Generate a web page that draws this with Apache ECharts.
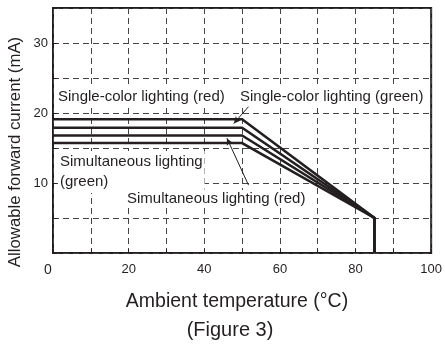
<!DOCTYPE html>
<html>
<head>
<meta charset="utf-8">
<script src="https://cdn.jsdelivr.net/npm/echarts@6/dist/echarts.min.js"></script>
<style>
html,body{margin:0;padding:0;background:#fff;}
#chart{width:445px;height:345px;}
</style>
</head>
<body>
<div id="chart"></div>
<script>
// Data
const temps = [0, 50, 85, 85];
const singleRed = [19.1, 19.1, 5, 0];
const singleGreen = [17.9, 17.9, 5, 0];
const simRed = [16.8, 16.8, 5, 0];
const simGreen = [15.7, 15.7, 5, 0];
const xTickLabels = [0, 20, 40, 60, 80, 100];
const yTickLabels = [10, 20, 30];
// leader arrows in data coords: [fromX, fromY, toX, toY]
const leaders = [
  [51.7, 20.9, 47.8, 18.5],
  [51.7, 9.7, 46.0, 16.4]
];

const INK = '#231f20';
const FONT = "'Liberation Sans', Arial, Helvetica, sans-serif";

function pairs(ys){ return temps.map((t,i)=>[t, ys[i]]); }

const chart = echarts.init(document.getElementById('chart'), null, {renderer:'canvas'});

const lineSeries = (name, ys, extra) => Object.assign({
  name, type:'line', data: pairs(ys), showSymbol:false, symbol:'none',
  lineStyle:{color:INK, width:2.5, join:'miter'}, z:5, animation:false
}, extra||{});

const option = {
  animation:false,
  backgroundColor:'#fff',
  grid:{left:53, top:8, width:380, height:245, show:true, borderColor:INK, borderWidth:2, backgroundColor:'transparent'},
  xAxis:{
    type:'value', min:0, max:100, interval:10,
    axisLine:{show:false},
    axisTick:{show:true, inside:true, length:4, lineStyle:{color:INK}},
    splitLine:{show:true, lineStyle:{color:'#444', width:1, type:[6,4]}},
    axisLabel:{
      margin:10, color:INK, fontFamily:FONT, fontSize:13,
      formatter:(v)=> xTickLabels.includes(v) ? (v===0 ? '{z|0}' : String(v)) : '',
      rich:{z:{fontFamily:FONT, fontSize:14, color:INK, padding:[0,10,0,0]}}
    }
  },
  yAxis:{
    type:'value', min:0, max:35, interval:5,
    axisLine:{show:false},
    axisTick:{show:true, inside:true, length:4, lineStyle:{color:INK}},
    splitLine:{show:true, lineStyle:{color:'#444', width:1, type:[6,4]}},
    axisLabel:{
      margin:5, color:INK, fontFamily:FONT, fontSize:13,
      formatter:(v)=> yTickLabels.includes(v) ? String(v) : ''
    }
  },
  series:[
    lineSeries('Single-color lighting (red)', singleRed, {
      markLine:{
        silent:true, symbol:['none','arrow'], symbolSize:[5,7],
        lineStyle:{color:INK, width:1, type:'solid'}, label:{show:false},
        animation:false,
        data: leaders.map(l=>[{coord:[l[0],l[1]]},{coord:[l[2],l[3]]}])
      }
    }),
    lineSeries('Single-color lighting (green)', singleGreen),
    lineSeries('Simultaneous lighting (red)', simRed),
    lineSeries('Simultaneous lighting (green)', simGreen)
  ],
  graphic:[
    {type:'text', left:56, top:88, z:100, style:{text:'Single-color lighting (red)', font:'15px '+FONT, fill:INK, backgroundColor:'#fff', padding:[1,2]}},
    {type:'text', left:238, top:88, z:100, style:{text:'Single-color lighting (green)', font:'15px '+FONT, fill:INK, backgroundColor:'#fff', padding:[1,2]}},
    {type:'text', left:58, top:151, z:100, style:{text:'Simultaneous lighting\n(green)', font:'15px '+FONT, lineHeight:20, fill:INK, backgroundColor:'#fff', padding:[1,2]}},
    {type:'text', left:125, top:190, z:100, style:{text:'Simultaneous lighting (red)', font:'15px '+FONT, fill:INK, backgroundColor:'#fff', padding:[1,2]}},
    {type:'text', x:15, y:152, rotation:Math.PI/2, z:100, style:{text:'Allowable forward current (mA)', font:'16.8px '+FONT, fill:INK, align:'center', verticalAlign:'middle', textAlign:'center', textVerticalAlign:'middle'}},
    {type:'text', x:237, y:302, z:100, style:{text:'Ambient temperature (°C)', font:'19.5px '+FONT, fill:INK, align:'center', verticalAlign:'middle', textAlign:'center', textVerticalAlign:'middle'}},
    {type:'text', x:230, y:330, z:100, style:{text:'(Figure 3)', font:'20px '+FONT, fill:INK, align:'center', verticalAlign:'middle', textAlign:'center', textVerticalAlign:'middle'}}
  ]
};
chart.setOption(option);
</script>
</body>
</html>
